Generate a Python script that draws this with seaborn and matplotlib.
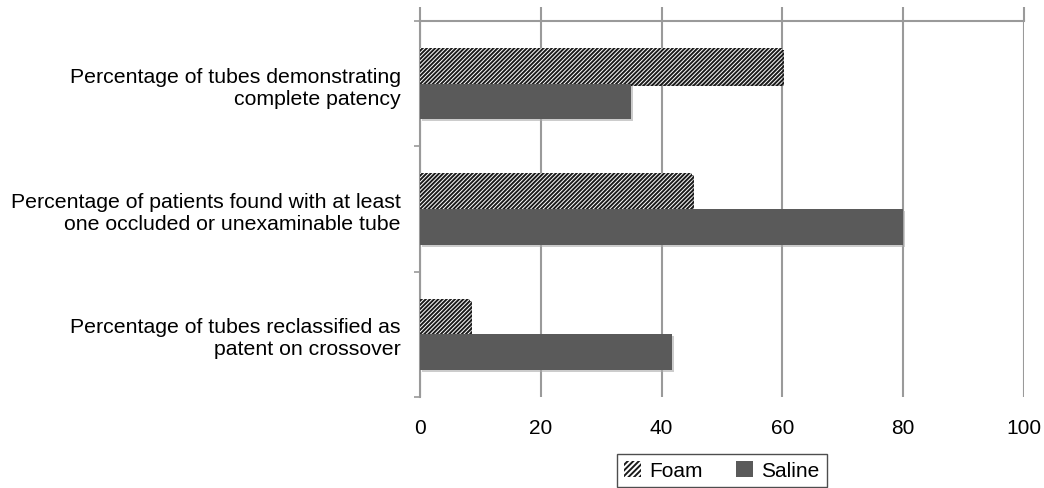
import pandas as pd
import numpy as np
import matplotlib
matplotlib.use('Agg')
import matplotlib.pyplot as plt
import matplotlib.patches as mpatches
import matplotlib.patheffects as pe
import seaborn as sns


# data
categories = ['Percentage of tubes demonstrating\ncomplete patency',
              'Percentage of patients found with at least\none occluded or unexaminable tube',
              'Percentage of tubes reclassified as\npatent on crossover']
series = ['Foam', 'Saline']
foam = [60, 45, 8.3]
saline = [35, 80, 41.7]
x_ticks = [0, 20, 40, 60, 80, 100]

df = pd.DataFrame({
    'category': categories * 2,
    'series': ['Foam'] * 3 + ['Saline'] * 3,
    'value': foam + saline,
})

# plot
sns.set_style('white')
plt.rcParams['font.family'] = ['Liberation Sans', 'DejaVu Sans']
plt.rcParams['hatch.linewidth'] = 1.4
plt.rcParams['text.color'] = 'black'
plt.rcParams['xtick.labelcolor'] = 'black'
plt.rcParams['ytick.labelcolor'] = 'black'

grid_col = '#9a9a9a'
dark = '#5a5a5a'
hatch = '////////'

f = plt.figure(figsize=(10.44, 4.89), dpi=100)
ax = f.add_axes([420 / 1044, 1 - 398 / 489, 604 / 1044, 376 / 489])

sns.barplot(data=df, x='value', y='category', hue='series', orient='h',
            palette={'Foam': 'white', 'Saline': dark}, width=0.57,
            saturation=1, legend=False, ax=ax, zorder=3)

shadow = [pe.SimplePatchShadow(offset=(1.5, -1.5), shadow_rgbFace='#aaaaaa', alpha=0.6),
          pe.Normal()]
for p in ax.containers[0]:
    p.set_hatch(hatch)
    p.set_edgecolor('#1a1a1a')
    p.set_linewidth(0)
    p.set_path_effects(shadow)
for p in ax.containers[1]:
    p.set_edgecolor(dark)
    p.set_linewidth(0)
    p.set_path_effects(shadow)

ax.set_xlim(0, 100)
ax.set_ylim(2.5, -0.5)
ax.set_xticks(x_ticks)
ax.set_xticklabels([str(t) for t in x_ticks], fontsize=15)
ax.grid(axis='x', color=grid_col, linewidth=1.5, zorder=0)
ax.set_axisbelow(True)

ax.tick_params(axis='x', which='major', top=True, bottom=False, labeltop=False,
               labelbottom=True, direction='out', length=10, width=1.5,
               color=grid_col, pad=5)
ax.set_yticks([0, 1, 2])
ax.set_yticklabels(categories, fontsize=15.3)
ax.tick_params(axis='y', which='major', length=0, pad=14)
ax.set_yticks([-0.5, 0.5, 1.5, 2.5], minor=True)
ax.tick_params(axis='y', which='minor', length=4, width=1.2, color=grid_col,
               direction='out', left=True)

for s in ['bottom', 'right']:
    ax.spines[s].set_visible(False)
for s in ['top', 'left']:
    ax.spines[s].set_color(grid_col)
    ax.spines[s].set_linewidth(1.5)

ax.set_xlabel('')
ax.set_ylabel('')

handles = [mpatches.Patch(facecolor='white', edgecolor='#1a1a1a', hatch='//////', linewidth=0, label='Foam'),
           mpatches.Patch(facecolor=dark, edgecolor=dark, linewidth=0, label='Saline')]
leg = ax.legend(handles=handles, loc='upper center', bbox_to_anchor=(0.5, -0.123),
                ncol=2, frameon=True, fancybox=False, fontsize=15,
                handlelength=0.8, handleheight=0.8, handletextpad=0.4,
                columnspacing=1.6, borderpad=0.35, edgecolor='#222222')
leg.get_frame().set_linewidth(1.0)

f.savefig('out.png', dpi=100)
